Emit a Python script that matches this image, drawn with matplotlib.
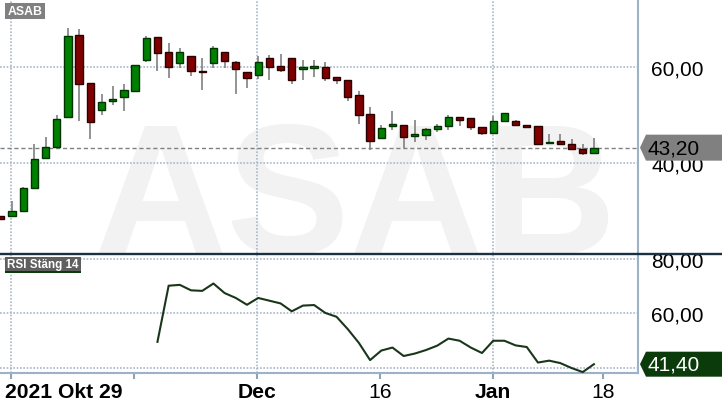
import numpy as np
import matplotlib
matplotlib.use("Agg")
import matplotlib.pyplot as plt
import matplotlib.transforms as mtransforms
from matplotlib.patches import Polygon, Rectangle
from matplotlib.lines import Line2D

plt.rcParams['font.family'] = ['Liberation Sans', 'DejaVu Sans']

# daily candles, index 0 = first (partly cut) candle
opens = [28.90, 28.89, 30.07, 34.86, 41.11, 43.40, 49.51, 66.67, 56.60, 51.11,
         52.85, 53.82, 55.07, 61.53, 66.18, 63.06, 60.90, 62.22, 59.17, 60.76,
         63.06, 60.97, 58.89, 58.26, 61.81, 60.14, 61.81, 59.65, 59.86, 60.00,
         57.92, 57.29, 54.17, 50.14, 45.14, 47.78, 47.85, 45.69, 45.76, 47.01,
         47.64, 49.51, 49.38, 47.43, 46.18, 48.68, 48.68, 47.92, 47.64, 44.10,
         44.51, 43.89, 42.92, 42.01]
highs = [29.00, 32.15, 34.93, 43.96, 45.49, 50.00, 68.13, 67.92, 56.60, 54.38,
         55.97, 56.46, 60.35, 66.46, 66.18, 65.00, 63.96, 62.22, 61.88, 64.38,
         63.06, 61.25, 58.89, 62.22, 62.50, 62.71, 61.81, 61.46, 61.46, 61.04,
         57.92, 57.29, 55.00, 51.67, 47.92, 50.83, 47.85, 48.96, 47.36, 48.13,
         50.00, 49.51, 49.38, 47.43, 49.72, 50.35, 48.96, 47.92, 47.64, 46.11,
         46.04, 45.00, 43.96, 45.28]
lows = [28.30, 28.89, 30.07, 34.58, 41.11, 43.40, 49.51, 48.82, 45.00, 50.07,
        52.08, 50.90, 55.07, 60.97, 59.17, 57.71, 59.79, 58.13, 55.28, 59.86,
        59.86, 54.44, 55.56, 57.50, 57.36, 59.03, 56.53, 57.36, 57.99, 57.15,
        56.53, 52.92, 48.13, 42.78, 45.14, 46.94, 43.06, 44.44, 44.86, 46.39,
        46.94, 47.78, 46.81, 45.76, 46.18, 48.47, 47.85, 47.43, 43.75, 44.10,
        43.89, 42.92, 41.74, 42.01]
closes = [28.35, 29.93, 34.72, 40.76, 43.26, 49.10, 66.39, 56.53, 48.61, 52.64,
          53.33, 55.21, 60.35, 65.97, 62.99, 60.07, 63.06, 59.24, 58.89, 63.89,
          61.18, 59.51, 57.64, 60.97, 60.07, 59.31, 57.22, 60.00, 60.21, 57.78,
          57.22, 53.82, 50.07, 44.51, 47.29, 48.06, 45.35, 45.97, 47.01, 47.71,
          49.51, 48.89, 47.43, 46.18, 48.68, 50.35, 47.85, 47.43, 44.03, 44.38,
          43.89, 42.92, 42.01, 43.20]

# RSI 14 on close, starts at candle 14
rsi_start = 14
rsi = [49.6, 70.2, 70.5, 68.5, 68.3, 71.0, 67.5, 65.7, 63.2, 65.7,
       64.7, 63.7, 60.8, 62.9, 63.1, 60.2, 58.8, 54.3, 49.2, 42.9,
       46.4, 47.5, 44.4, 45.3, 46.6, 48.2, 50.8, 50.0, 47.5, 45.5,
       50.0, 50.0, 48.3, 47.7, 42.0, 42.7, 41.8, 40.0, 38.5, 41.4]

tick_pos = [0.9, 11.9, 22.9, 33.9, 44.0, 53.8]
tick_labels = ['2021 Okt 29', '', 'Dec', '16', 'Jan', '18']
month_ticks = [0, 2, 4]
price_ticks = [40, 60]
rsi_grid = [40, 60, 80]
rsi_ticks = [60, 80]   # the 40 label sits under the last-value tag

W, H = 722, 410
fig = plt.figure(figsize=(W / 100, H / 100), dpi=100)

def fx(x):
    return x / W

def fy(y):
    return 1 - y / H

grid_col = '#a9b8c6'
axis_col = '#9fb1c6'

ax = fig.add_axes([0, fy(254), fx(638), 254 / H])
ax2 = fig.add_axes([0, fy(373.5), fx(638), (373.5 - 255) / H])

n = len(closes)
x = np.arange(n)
ax.set_xlim(-0.07, 56.94)
ax2.set_xlim(-0.07, 56.94)
ax.set_ylim(21.25, 74.17)
ax2.set_ylim(38.35, 81.83)

# watermark
ax.text(0.556, 0.0, 'ASAB', transform=ax.transAxes, ha='center', va='baseline',
        fontsize=133, fontweight='bold', color='#f2f2f2', zorder=0)

for a in (ax, ax2):
    for p in [tick_pos[i] for i in month_ticks]:
        a.axvline(p, color=grid_col, lw=1.2, ls=(0, (1, 1)), zorder=1)
for v in price_ticks:
    ax.axhline(v, color=grid_col, lw=1.2, ls=(0, (1, 1)), zorder=1)
for v in rsi_grid:
    ax2.axhline(v, color=grid_col, lw=1.2, ls=(0, (1, 1)), zorder=1)

# candles
o = np.array(opens)
c = np.array(closes)
up = c >= o
ax.vlines(x, lows, highs, color='#808080', lw=1.2, zorder=2)
body_bot = np.minimum(o, c)
body_h = np.maximum(np.abs(c - o), 0.15)
ax.bar(x[up], body_h[up], bottom=body_bot[up], width=0.65,
       color='#008000', edgecolor='#003300', lw=1, zorder=3)
ax.bar(x[~up], body_h[~up], bottom=body_bot[~up], width=0.65,
       color='#800000', edgecolor='#2a0000', lw=1, zorder=3)

last = closes[-1]
ax.axhline(last, color='#808080', lw=1, ls=(0, (3, 2)), zorder=2)

# rsi line
ax2.plot(np.arange(rsi_start, rsi_start + len(rsi)), rsi, color='#1a361a', lw=1.5, zorder=3)

# axes cosmetics
for a, ticks in ((ax, price_ticks), (ax2, rsi_ticks)):
    for s in ('top', 'left', 'bottom'):
        a.spines[s].set_visible(False)
    a.spines['right'].set_color(axis_col)
    a.spines['right'].set_linewidth(1.5)
    a.yaxis.tick_right()
    a.set_yticks(ticks)
    a.set_yticklabels(['%d,00' % t for t in ticks])
    a.tick_params(axis='y', length=0, pad=9.5, labelsize=15, labelcolor='black')
    a.set_facecolor('white')

ax.set_xticks([])
ax2.spines['bottom'].set_visible(True)
ax2.spines['bottom'].set_color(axis_col)
ax2.spines['bottom'].set_linewidth(1.5)
ax2.set_xticks(tick_pos)
ax2.set_xticklabels(tick_labels)
ax2.tick_params(axis='x', length=4, width=1.5, color='#8fa3b8', pad=3,
                labelsize=15.2)
xl = ax2.get_xticklabels()
for i in month_ticks:
    xl[i].set_fontweight('bold')
# first label starts at the left edge instead of centred on its tick
xl[0].set_horizontalalignment('left')
xl[0].set_transform(xl[0].get_transform() +
                    mtransforms.ScaledTranslation(-6 / 100, 0, fig.dpi_scale_trans))

# panel separator
fig.add_artist(Line2D([0, 1], [fy(254.8), fy(254.8)], color='#1b3142', lw=1.7))

# panel labels
fig.add_artist(Rectangle((fx(5), fy(20)), fx(40), 16 / H, color='#808080', lw=0))
fig.text(fx(25), fy(12), 'ASAB', color='white', fontsize=8.8, fontweight='bold',
         ha='center', va='center')
fig.add_artist(Rectangle((fx(5), fy(272)), fx(76), 14 / H, color='#5f5f5f', lw=0))
fig.add_artist(Rectangle((fx(5), fy(274)), fx(76), 2 / H, color='#0b3b0b', lw=0))
fig.text(fx(43), fy(265), 'RSI Stäng 14', color='white', fontsize=8.4,
         fontweight='bold', ha='center', va='center')

# last value tags
def tag(a, value, face, textcol, half):
    ypix = a.transData.transform((0, value))[1]
    yc = H - ypix
    pts = [(640, yc), (646, yc - half), (722, yc - half), (722, yc + half), (646, yc + half)]
    fig.add_artist(Polygon([(fx(px), fy(py)) for px, py in pts], closed=True,
                           facecolor=face, edgecolor='none', zorder=5))
    fig.text(fx(648), fy(yc), ('%.2f' % value).replace('.', ','), color=textcol,
             fontsize=15, ha='left', va='center', zorder=6)

tag(ax, last, '#808080', 'black', 13)
tag(ax2, rsi[-1], '#0b3b0b', 'white', 12.5)

fig.savefig('out.png', dpi=100, facecolor='white')
